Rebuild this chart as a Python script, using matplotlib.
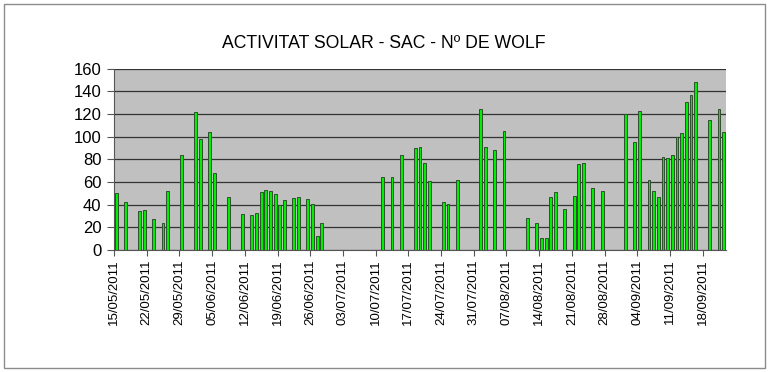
import datetime as dt
import matplotlib
matplotlib.use("Agg")
import matplotlib.pyplot as plt
import matplotlib.dates as mdates
from matplotlib.patches import Rectangle

plt.rcParams['font.family'] = ['Liberation Sans', 'DejaVu Sans']

# daily wolf number (days without observation are left out)
days = ["15/05/2011", "17/05/2011", "20/05/2011", "21/05/2011", "23/05/2011",
        "25/05/2011", "26/05/2011", "29/05/2011", "01/06/2011", "02/06/2011",
        "04/06/2011", "05/06/2011", "08/06/2011", "11/06/2011", "13/06/2011",
        "14/06/2011", "15/06/2011", "16/06/2011", "17/06/2011", "18/06/2011",
        "19/06/2011", "20/06/2011", "22/06/2011", "23/06/2011", "25/06/2011",
        "26/06/2011", "27/06/2011", "28/06/2011", "11/07/2011", "13/07/2011",
        "15/07/2011", "18/07/2011", "19/07/2011", "20/07/2011", "21/07/2011",
        "24/07/2011", "25/07/2011", "27/07/2011", "01/08/2011", "02/08/2011",
        "04/08/2011", "06/08/2011", "11/08/2011", "13/08/2011", "14/08/2011",
        "15/08/2011", "16/08/2011", "17/08/2011", "19/08/2011", "21/08/2011",
        "22/08/2011", "23/08/2011", "25/08/2011", "27/08/2011", "01/09/2011",
        "03/09/2011", "04/09/2011", "06/09/2011", "07/09/2011", "08/09/2011",
        "09/09/2011", "10/09/2011", "11/09/2011", "12/09/2011", "13/09/2011",
        "14/09/2011", "15/09/2011", "16/09/2011", "19/09/2011", "21/09/2011",
        "22/09/2011"]
wolf = [50, 42, 34, 35, 27,
        24, 52, 84, 122, 98,
        104, 68, 47, 32, 31,
        33, 51, 53, 52, 49,
        40, 44, 46, 47, 45,
        41, 12, 24, 64, 64,
        84, 90, 91, 77, 61,
        42, 41, 62, 124, 91,
        88, 105, 28, 24, 11,
        11, 47, 51, 36, 48,
        76, 77, 55, 52, 120,
        95, 123, 62, 52, 47,
        82, 81, 84, 100, 103,
        131, 137, 148, 115, 124,
        104]

first_day = "15/05/2011"
last_day = "22/09/2011"
title = "ACTIVITAT SOLAR - SAC - Nº DE WOLF"

def to_num(s):
    return mdates.date2num(dt.datetime.strptime(s, "%d/%m/%Y"))

x = [to_num(d) + 0.5 for d in days]  # bar sits in the middle of its day

fig = plt.figure(figsize=(7.68, 3.72), dpi=100)
fig.patches.append(Rectangle((4 / 768, 4 / 372), 761 / 768, 364 / 372,
                             transform=fig.transFigure, fill=False,
                             edgecolor="#8c8c8c", linewidth=1))

ax = fig.add_axes([114 / 768, 1 - 250 / 372, 612 / 768, 181.3 / 372])
ax.set_facecolor("#c0c0c0")
ax.bar(x, wolf, width=0.6, color="#00ee00", edgecolor="#2f4f2f",
       linewidth=0.7, zorder=3)

ax.set_xlim(to_num(first_day), to_num(last_day) + 1)
ax.set_ylim(0, 160)
ax.set_yticks(range(0, 161, 20))
ax.grid(axis="y", color="#333333", linewidth=0.9, zorder=1)

ticks = [to_num(first_day) + 7 * k for k in range(19)]
ax.set_xticks(ticks)
ax.set_xticklabels([mdates.num2date(t).strftime("%d/%m/%Y") for t in ticks],
                   rotation=90, fontsize=9.5)
ax.tick_params(axis="y", labelsize=12, length=5, color="#555555", pad=4)
ax.tick_params(axis="x", length=4, color="#555555", pad=3)

for side in ["top", "right"]:
    ax.spines[side].set_visible(False)
ax.spines["left"].set_color("#555555")
ax.spines["bottom"].set_color("#555555")

fig.text(0.5, 1 - 43 / 372, title, ha="center", va="center", fontsize=12.7)

fig.savefig("out.png", dpi=100)
